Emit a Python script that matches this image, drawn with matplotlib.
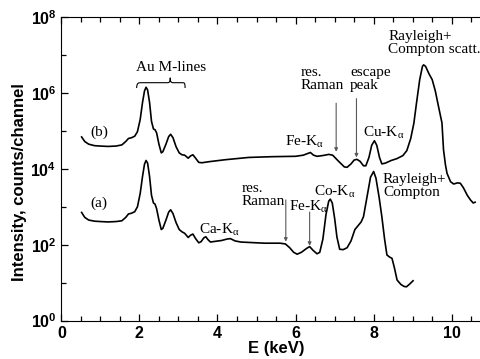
import numpy as np
import matplotlib
matplotlib.use("Agg")
import matplotlib.pyplot as plt
from matplotlib.path import Path
from matplotlib.patches import PathPatch
from matplotlib.ticker import FixedLocator, FuncFormatter, MultipleLocator

plt.rcParams.update({
    "font.family": "Liberation Sans",
    "mathtext.fontset": "custom",
    "mathtext.rm": "Liberation Serif",
    "mathtext.it": "Liberation Serif:italic",
    "mathtext.bf": "Liberation Sans:bold",
})

# spectrum (b): energy (keV), log10(counts/channel)
E_B = [0.52, 0.60, 0.70, 0.85, 1.0, 1.2, 1.4, 1.55, 1.65, 1.72, 1.80, 1.88, 1.95, 2.02, 2.08,
       2.13, 2.17, 2.21, 2.26, 2.31, 2.36, 2.40, 2.44, 2.50, 2.56, 2.60, 2.68, 2.75, 2.80, 2.86,
       2.94, 3.02, 3.09, 3.16, 3.25, 3.31, 3.37, 3.44, 3.52, 3.60, 3.8, 4.2, 4.8, 5.4, 6.0,
       6.2, 6.3, 6.38, 6.46, 6.55, 6.7, 6.85, 6.95, 7.1, 7.25, 7.32, 7.42, 7.50, 7.57, 7.65,
       7.74, 7.80, 7.88, 7.95, 8.02, 8.08, 8.15, 8.21, 8.30, 8.45, 8.60, 8.75, 8.85, 8.95, 9.03,
       9.10, 9.18, 9.25, 9.28, 9.33, 9.42, 9.50, 9.58, 9.66, 9.75, 9.79, 9.84, 9.88, 9.97, 10.05,
       10.15, 10.22, 10.30, 10.40, 10.48, 10.55, 10.60]
LOG_B = [4.84, 4.72, 4.65, 4.61, 4.60, 4.59, 4.60, 4.63, 4.72, 4.80, 4.82, 4.86, 4.98, 5.30, 5.75,
         6.05, 6.15, 6.08, 5.75, 5.25, 5.05, 5.03, 4.95, 4.65, 4.42, 4.45, 4.65, 4.85, 4.91, 4.82,
         4.58, 4.42, 4.37, 4.36, 4.28, 4.34, 4.37, 4.28, 4.17, 4.16, 4.19, 4.24, 4.30, 4.32, 4.33,
         4.36, 4.40, 4.43, 4.36, 4.33, 4.35, 4.38, 4.36, 4.20, 4.05, 4.04, 4.13, 4.23, 4.25, 4.20,
         4.08, 4.08, 4.30, 4.62, 4.74, 4.62, 4.30, 4.13, 4.15, 4.22, 4.27, 4.35, 4.48, 4.80, 5.20,
         5.75, 6.35, 6.70, 6.74, 6.70, 6.50, 6.35, 6.05, 5.65, 5.21, 4.50, 4.10, 3.88, 3.66, 3.60,
         3.63, 3.62, 3.50, 3.30, 3.18, 3.10, 3.12]

# spectrum (a)
E_A = [0.52, 0.60, 0.70, 0.85, 1.0, 1.2, 1.4, 1.55, 1.65, 1.72, 1.80, 1.88, 1.95, 2.02, 2.08,
       2.13, 2.17, 2.21, 2.26, 2.31, 2.36, 2.40, 2.44, 2.50, 2.56, 2.60, 2.68, 2.75, 2.80, 2.86,
       2.94, 3.02, 3.09, 3.16, 3.25, 3.31, 3.37, 3.44, 3.52, 3.58, 3.65, 3.70, 3.76, 3.82, 3.95,
       4.10, 4.25, 4.33, 4.45, 4.6, 4.8, 5.2, 5.6, 5.74, 5.85, 5.95, 6.04, 6.15, 6.28, 6.36,
       6.45, 6.55, 6.62, 6.70, 6.78, 6.85, 6.89, 6.94, 7.00, 7.06, 7.13, 7.22, 7.32, 7.42, 7.52,
       7.60, 7.68, 7.74, 7.82, 7.92, 8.00, 8.06, 8.14, 8.21, 8.28, 8.34, 8.40, 8.47, 8.53, 8.60,
       8.70, 8.78, 8.84, 8.92, 9.01]
LOG_A = [2.85, 2.72, 2.65, 2.62, 2.61, 2.60, 2.61, 2.63, 2.72, 2.81, 2.83, 2.87, 3.00, 3.35, 3.80,
         4.12, 4.22, 4.15, 3.80, 3.30, 3.10, 3.07, 2.95, 2.65, 2.40, 2.43, 2.65, 2.86, 2.92, 2.82,
         2.58, 2.40, 2.34, 2.30, 2.19, 2.25, 2.28, 2.16, 2.05, 2.08, 2.18, 2.21, 2.13, 2.07, 2.09,
         2.11, 2.15, 2.16, 2.10, 2.07, 2.06, 2.04, 2.04, 2.02, 1.92, 1.80, 1.75, 1.80, 1.90, 1.95,
         1.85, 1.76, 1.80, 2.15, 2.80, 3.15, 3.20, 3.10, 2.70, 2.20, 1.88, 1.87, 1.92, 2.10, 2.40,
         2.50, 2.60, 2.74, 3.20, 3.78, 3.93, 3.75, 3.25, 2.74, 2.15, 1.73, 1.68, 1.64, 1.40, 1.07,
         0.95, 0.90, 0.89, 0.96, 1.05]

SERIF = "Liberation Serif"
FS = 11
KA = r"-K$_\mathrm{\alpha}$"
ARROW = dict(arrowstyle="-|>", color="0.35", lw=0.8, mutation_scale=5, shrinkA=0, shrinkB=0)

fig = plt.figure(figsize=(4.81, 3.59), dpi=100)
ax = fig.add_axes([0.1275, 0.107, 0.8725, 0.8455])

ax.plot(E_B, 10 ** np.array(LOG_B), color="black", lw=1.2)
ax.plot(E_A, 10 ** np.array(LOG_A), color="black", lw=1.2)

ax.set_yscale("log")
ax.set_xlim(0, 10.75)
ax.set_ylim(1, 1e8)
ax.xaxis.set_major_locator(MultipleLocator(2))
ax.xaxis.set_minor_locator(MultipleLocator(0.5))
ax.yaxis.set_major_locator(FixedLocator([1, 1e2, 1e4, 1e6, 1e8]))
ax.yaxis.set_minor_locator(FixedLocator([10, 1e3, 1e5, 1e7]))
ax.yaxis.set_major_formatter(FuncFormatter(lambda v, p: r"$\mathbf{10^{%d}}$" % round(np.log10(v))))
ax.yaxis.set_minor_formatter(FuncFormatter(lambda v, p: ""))
ax.tick_params(which="both", direction="in", top=True, right=False, width=0.9)
ax.tick_params(which="major", length=5, labelsize=11.5)
ax.tick_params(axis="x", which="major", pad=4)
ax.tick_params(which="minor", length=3.5)
for lab in ax.get_xticklabels():
    lab.set_fontweight("bold")
ax.spines["right"].set_visible(False)
ax.set_xlabel("E (keV)", fontsize=12, fontweight="bold")
ax.set_ylabel("Intensity, counts/channel", fontsize=12, fontweight="bold")
ax.xaxis.set_label_coords(0.512, -0.068)
ax.yaxis.set_label_coords(-0.082, 0.455)

# curve labels
ax.text(0.97, 10 ** 4.97, "(b)", family=SERIF, fontsize=FS, ha="center", va="center")
ax.text(0.95, 10 ** 3.10, "(a)", family=SERIF, fontsize=FS, ha="center", va="center")

# Au M-lines brace
verts = [(1.93, 10 ** 6.13), (1.93, 10 ** 6.27), (1.98, 10 ** 6.27), (2.05, 10 ** 6.27),
         (2.72, 10 ** 6.27),
         (2.77, 10 ** 6.27), (2.79, 10 ** 6.30), (2.79, 10 ** 6.40),
         (2.79, 10 ** 6.30), (2.81, 10 ** 6.27), (2.86, 10 ** 6.27),
         (3.10, 10 ** 6.27),
         (3.15, 10 ** 6.27), (3.17, 10 ** 6.27), (3.17, 10 ** 6.13)]
codes = [Path.MOVETO, Path.CURVE4, Path.CURVE4, Path.CURVE4, Path.LINETO,
         Path.CURVE4, Path.CURVE4, Path.CURVE4,
         Path.CURVE4, Path.CURVE4, Path.CURVE4, Path.LINETO,
         Path.CURVE4, Path.CURVE4, Path.CURVE4]
ax.add_patch(PathPatch(Path(verts, codes), fill=False, lw=0.8, color="black"))
ax.text(2.80, 10 ** 6.68, "Au M-lines", family=SERIF, fontsize=FS, ha="center", va="center")

# (b) annotations
ax.text(6.12, 10 ** 6.36, "res.\nRaman", family=SERIF, fontsize=FS, ha="left", va="center",
        linespacing=1.0)
ax.annotate("", xy=(7.04, 10 ** 4.45), xytext=(7.04, 10 ** 5.73), arrowprops=ARROW)
ax.text(7.40, 10 ** 6.36, "escape\npeak", family=SERIF, fontsize=FS, ha="left", va="center",
        linespacing=1.0)
ax.annotate("", xy=(7.56, 10 ** 4.30), xytext=(7.56, 10 ** 5.85), arrowprops=ARROW)
ax.text(6.22, 10 ** 4.72, "Fe" + KA, family=SERIF, fontsize=FS, ha="center", va="center")
ax.text(8.25, 10 ** 4.94, "Cu" + KA, family=SERIF, fontsize=FS, ha="center", va="center")
ax.text(8.38, 10 ** 7.32, "Rayleigh+\nCompton scatt.", family=SERIF, fontsize=FS, ha="left",
        va="center", linespacing=1.0)

# (a) annotations
ax.text(4.62, 10 ** 3.30, "res.\nRaman", family=SERIF, fontsize=FS, ha="left", va="center",
        linespacing=1.0)
ax.annotate("", xy=(5.75, 10 ** 2.08), xytext=(5.75, 10 ** 3.18), arrowprops=ARROW)
ax.text(6.33, 10 ** 3.00, "Fe" + KA, family=SERIF, fontsize=FS, ha="center", va="center")
ax.annotate("", xy=(6.36, 10 ** 1.97), xytext=(6.36, 10 ** 2.86), arrowprops=ARROW)
ax.text(7.00, 10 ** 3.40, "Co" + KA, family=SERIF, fontsize=FS, ha="center", va="center")
ax.text(8.24, 10 ** 3.55, "Rayleigh+\nCompton", family=SERIF, fontsize=FS, ha="left",
        va="center", linespacing=1.0)
ax.text(3.53, 10 ** 2.39, "Ca" + KA, family=SERIF, fontsize=FS, ha="left", va="center")

fig.savefig("out.png", dpi=100)
